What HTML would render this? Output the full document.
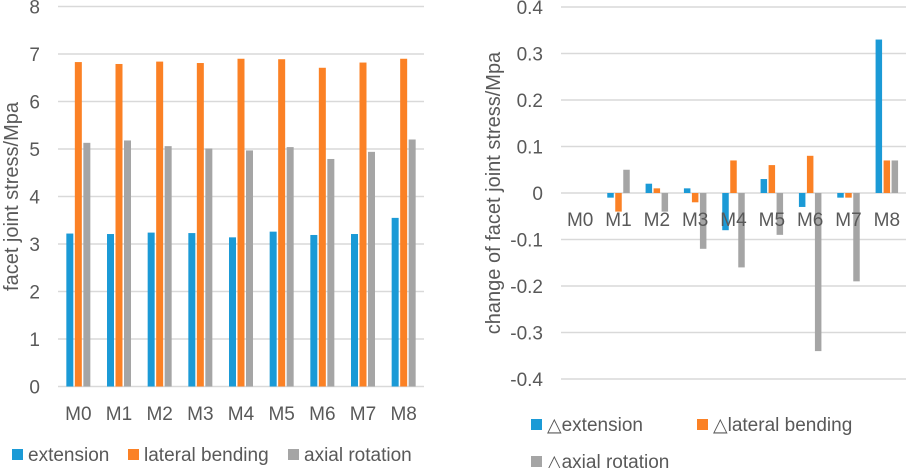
<!DOCTYPE html>
<html><head><meta charset="utf-8"><style>
body{margin:0;background:#fff;width:906px;height:468px;overflow:hidden}
svg text{font-family:"Liberation Sans","DejaVu Sans",sans-serif;fill:#595959}
</style></head><body>
<svg id="c" width="906" height="468"></svg>
<script>
const categories=["M0","M1","M2","M3","M4","M5","M6","M7","M8"];
const extension=[3.22,3.21,3.24,3.23,3.14,3.26,3.19,3.21,3.55];
const lateralBending=[6.83,6.79,6.84,6.81,6.90,6.89,6.71,6.82,6.90];
const axialRotation=[5.13,5.18,5.06,5.01,4.97,5.04,4.79,4.94,5.20];
const leftTicks=[0,1,2,3,4,5,6,7,8];
const dExtension=[0,-0.01,0.02,0.01,-0.08,0.03,-0.03,-0.01,0.33];
const dLateral=[0,-0.04,0.01,-0.02,0.07,0.06,0.08,-0.01,0.07];
const dAxial=[0,0.05,-0.04,-0.12,-0.16,-0.09,-0.34,-0.19,0.07];
const rightTicks=[-0.4,-0.3,-0.2,-0.1,0,0.1,0.2,0.3,0.4];
const colors=["#1b9ad6","#fb8125","#a5a5a5"];
const svg=document.getElementById('c');const NS="http://www.w3.org/2000/svg";
function mk(t,a,p){const e=document.createElementNS(NS,t);for(const k in a)e.setAttribute(k,a[k]);(p||svg).appendChild(e);return e;}
function chart(o){
 const y=v=>o.y0+(v-o.min)/(o.max-o.min)*(o.y1-o.y0);
 const bw=(o.x1-o.x0)/categories.length;
 o.ticks.forEach(t=>{
  const l=mk('line',{x1:o.x0,x2:o.x1,y1:y(t),y2:y(t),stroke:"#d9d9d9","stroke-width":1.5});
  
  
  const tx=mk('text',{x:o.tx,y:y(t)+7,"text-anchor":"end","font-size":19});
  tx.textContent=o.fmt(t);
  
  
 });
 o.series.forEach((s,si)=>{
  s.forEach((v,i)=>{
   const cx=o.x0+bw*(i+0.5);const w=o.barW;
   const x=cx+(si-1)*(w+1.5)-w/2;
   const a=y(Math.max(v,0)),b=y(Math.min(v,0));
   const r=mk('rect',{x:x,y:Math.min(a,b),width:w,height:Math.abs(b-a),fill:colors[si]});
   
   
  });
 });
 categories.forEach((c,i)=>{
  const t=mk('text',{x:o.x0+bw*(i+0.5),y:o.ly,"text-anchor":"middle","font-size":19});
  t.textContent=c;
  
  
 });
 const yt=mk('text',{transform:`translate(${o.ytx},${(o.y0+o.y1)/2}) rotate(-90)`,"text-anchor":"middle","font-size":20});
 yt.textContent=o.title;
 
 
}
chart({x0:58,x1:424,y0:386.5,y1:6.5,min:0,max:8,ticks:leftTicks,fmt:t=>String(t),tx:40,series:[extension,lateralBending,axialRotation],names:["extension","lateral","axial"],barW:7,ly:420,ytx:18,title:"facet joint stress/Mpa"});
chart({x0:561,x1:906,y0:379,y1:7,min:-0.4,max:0.4,ticks:rightTicks,fmt:t=>String(Math.round(t*10)/10),tx:543,series:[dExtension,dLateral,dAxial],names:["d-extension","d-lateral","d-axial"],barW:6.5,ly:226,ytx:500,title:"change of facet joint stress/Mpa"});
function leg(x,y,c,label){
 const g=mk('g',{});
 
 
 mk('rect',{x:x,y:y-11,width:11,height:11,fill:c},g);
 const t=mk('text',{x:x+16,y:y+1,"font-size":19},g);t.textContent=label;
}
leg(12,460,colors[0],"extension");leg(128,460,colors[1],"lateral bending");leg(288,460,colors[2],"axial rotation");
leg(531,430,colors[0],"△extension");leg(697,430,colors[1],"△lateral bending");leg(531,467,colors[2],"△axial rotation");
</script>
</body></html>
